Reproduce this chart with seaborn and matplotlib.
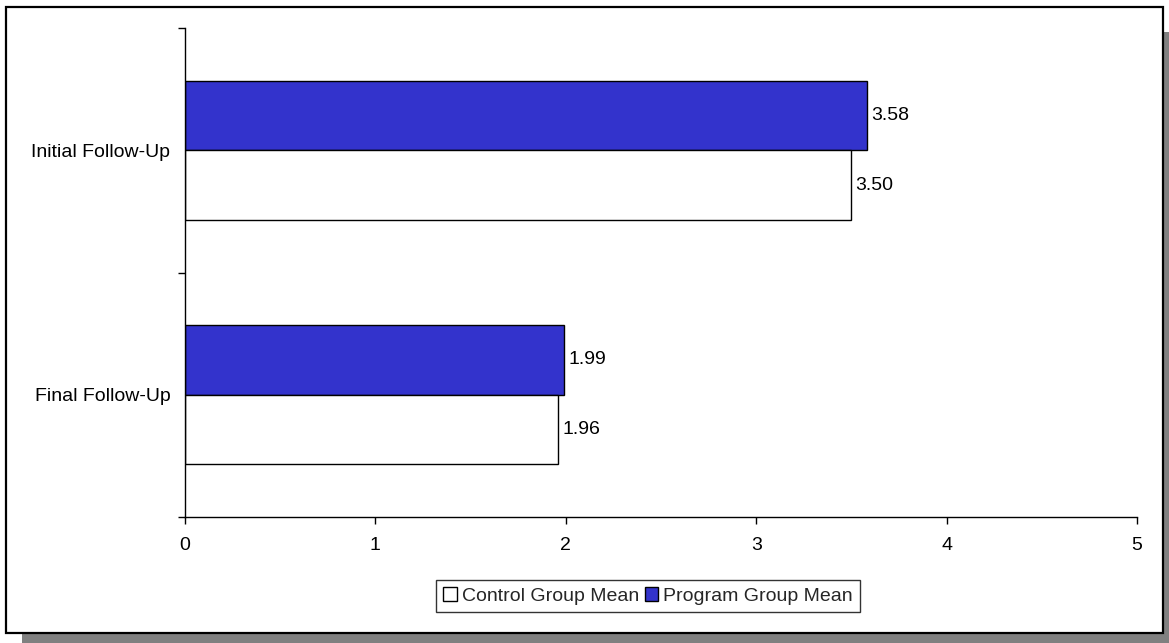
import matplotlib
matplotlib.use('Agg')
import matplotlib.pyplot as plt
import seaborn as sns
import pandas as pd
from matplotlib.patches import Rectangle, Patch
from matplotlib.ticker import FixedLocator

# ---- data ----
categories = ['Initial Follow-Up', 'Final Follow-Up']
series = ['Program Group Mean', 'Control Group Mean']
program_values = [3.58, 1.99]
control_values = [3.50, 1.96]
x_ticks = [0, 1, 2, 3, 4, 5]
colors = {'Program Group Mean': '#3333CC', 'Control Group Mean': '#FFFFFF'}

df = pd.DataFrame({
    'Category': categories * 2,
    'Series': [series[0]] * len(categories) + [series[1]] * len(categories),
    'Value': program_values + control_values,
})

sns.set_theme(style='white')
plt.rcParams['font.family'] = ['Liberation Sans', 'DejaVu Sans']

W, H = 1169, 643
fig = plt.figure(figsize=(W / 100, H / 100), dpi=100)
fig.patch.set_facecolor('white')

# shadow and frame
fig.patches.append(Rectangle((22 / W, -0.1), 1.2, 1 - 32 / H + 0.1,
                             transform=fig.transFigure, facecolor='#808080',
                             edgecolor='none', zorder=-3))
fig.patches.append(Rectangle((6 / W, 1 - 633 / H), (1163 - 6) / W, (633 - 7) / H,
                             transform=fig.transFigure, facecolor='white',
                             edgecolor='black', linewidth=1.6, zorder=-2))

ax = fig.add_axes([185 / W, 1 - 517 / H, (1137 - 185) / W, (517 - 28) / H])
ax.set_facecolor('none')

sns.barplot(data=df, y='Category', x='Value', hue='Series', order=categories,
            hue_order=series, palette=colors, orient='h', width=0.57,
            edgecolor='black', linewidth=1.0, saturation=1, ax=ax, legend=False)

for cont in ax.containers:
    ax.bar_label(cont, fmt='%.2f', padding=3, fontsize=14, color='black')

ax.set_xlim(0, 5)
ax.set_ylim(1.5, -0.5)
ax.set_xticks(x_ticks)
ax.set_xticklabels([str(t) for t in x_ticks], fontsize=14, color='black')
ax.yaxis.set_minor_locator(FixedLocator([-0.5, 0.5, 1.5]))
ax.tick_params(axis='y', which='major', length=0, pad=10.5, labelsize=14, labelcolor='black')
ax.tick_params(axis='y', which='minor', length=5, width=1, color='black', direction='out', left=True)
ax.tick_params(axis='x', which='major', length=5, width=1, color='black', direction='out',
               bottom=True, pad=9.5)
ax.set_xlabel('')
ax.set_ylabel('')
for s in ['top', 'right']:
    ax.spines[s].set_visible(False)
for s in ['left', 'bottom']:
    ax.spines[s].set_color('black')
    ax.spines[s].set_linewidth(1.0)

handles = [Patch(facecolor=colors['Control Group Mean'], edgecolor='black', label='Control Group Mean'),
           Patch(facecolor=colors['Program Group Mean'], edgecolor='black', label='Program Group Mean')]
leg = fig.legend(handles=handles, loc='center', bbox_to_anchor=(648 / W, 1 - 596 / H),
                 ncol=2, fontsize=14, frameon=True, fancybox=False, shadow=False,
                 handlelength=0.7, handleheight=0.7, handletextpad=0.25,
                 columnspacing=0.3, borderpad=0.35, borderaxespad=0)
leg.get_frame().set_edgecolor('black')
leg.get_frame().set_linewidth(1.0)

fig.savefig('out.png', dpi=100)
